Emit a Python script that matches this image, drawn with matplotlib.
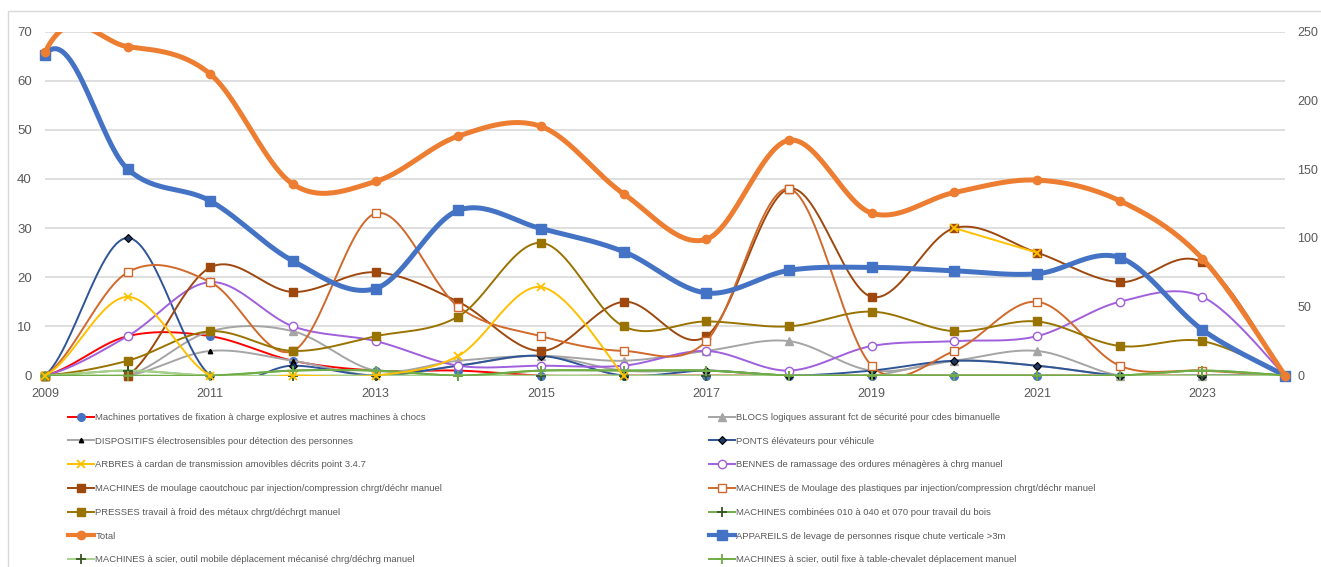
import numpy as np
import matplotlib
matplotlib.use("Agg")
import matplotlib.pyplot as plt
from matplotlib.lines import Line2D
from matplotlib.patches import Rectangle
from matplotlib import font_manager

# ---------------- data ----------------
# 2008 is the (zero) point before the visible axis start (2009)
YEARS = list(range(2008, 2025))
nan = np.nan

portatives = [0, 0, 8, 8, 3, 1, 1, 0, 0, 0, 0, 0, 0, 0, 0, 0, 0]
blocs = [0, 0, 0, 9, 9, 1, 3, 4, 3, 5, 7, 1, 3, 5, 0, 0, 0]
dispositifs = [0, 0, 0, 5, 3, 0, 2, 4, 1, 1, 0, 0, 3, 2, 0, 0, 0]
ponts = [0, 0, 28, 0, 2, 0, 2, 4, 0, 1, 0, 1, 3, 2, 0, 0, 0]
arbres = [0, 0, 16, 0, 0, 0, 4, 18, 0, nan, nan, nan, 30, 25, nan, nan, nan]
bennes = [0, 0, 8, 19, 10, 7, 2, 2, 2, 5, 1, 6, 7, 8, 15, 16, 0]
caoutchouc = [0, 0, 0, 22, 17, 21, 15, 5, 15, 8, 38, 16, 30, 25, 19, 23, 0]
plastiques = [0, 0, 21, 19, 5, 33, 14, 8, 5, 7, 38, 2, 5, 15, 2, 1, 0]
presses = [0, 0, 3, 9, 5, 8, 12, 27, 10, 11, 10, 13, 9, 11, 6, 7, 0]
combinees = [0, 0, 1, 0, 1, 1, 0, 1, 1, 1, 0, 0, 0, 0, 0, 1, 0]
total = [0, 235, 239, 219, 139, 141, 174, 181, 132, 99, 171, 118, 133, 142, 127, 85, 0]
appareils = [0, 65.3, 42, 35.5, 23.3, 17.7, 33.6, 29.9, 25.2, 16.8, 21.4, 22, 21.3, 20.7, 24, 9.3, 0]
scier_mobile = [0, 0, 1, 0, 0, 0, 0, 0, 0, 0, 0, 0, 0, 0, 0, 0, 0]
scier_fixe = [0, 0, 0, 0, 1, 1, 0, 1, 1, 1, 0, 0, 0, 0, 0, 1, 0]

LABELS = [
    "Machines portatives de fixation à charge explosive et autres machines à chocs",
    "BLOCS logiques assurant fct de sécurité pour cdes bimanuelle",
    "DISPOSITIFS électrosensibles pour détection des personnes",
    "PONTS élévateurs pour véhicule",
    "ARBRES à cardan de transmission amovibles décrits point 3.4.7",
    "BENNES de ramassage des ordures ménagères à chrg manuel",
    "MACHINES de moulage caoutchouc par injection/compression chrgt/déchr manuel",
    "MACHINES de Moulage des plastiques par injection/compression chrgt/déchr manuel",
    "PRESSES travail à froid des métaux chrgt/déchrgt manuel",
    "MACHINES combinées 010 à 040 et 070 pour travail du bois",
    "Total",
    "APPAREILS de levage de personnes risque chute verticale >3m",
    "MACHINES à scier, outil mobile déplacement mécanisé chrg/déchrg manuel",
    "MACHINES à scier, outil fixe à table-chevalet déplacement manuel",
]
SERIES = [portatives, blocs, dispositifs, ponts, arbres, bennes, caoutchouc,
          plastiques, presses, combinees, total, appareils, scier_mobile, scier_fixe]
Y_TICKS_LEFT = [0, 10, 20, 30, 40, 50, 60, 70]
Y_TICKS_RIGHT = [0, 50, 100, 150, 200, 250]
X_TICKS = [2009, 2011, 2013, 2015, 2017, 2019, 2021, 2023]

# ---------------- styles ----------------
STYLES = [
    dict(color="#FF0000", marker="o", mfc="#4472C4", mec="#4472C4", ms=5.5, lw=1.4),
    dict(color="#A5A5A5", marker="^", mfc="#A5A5A5", mec="#A5A5A5", ms=5.5, lw=1.4),
    dict(color="#A5A5A5", marker="^", mfc="#000000", mec="#000000", ms=3.2, lw=1.4),
    dict(color="#2F5597", marker="D", mfc="#203864", mec="#000000", ms=4.5, lw=1.4, mew=0.8),
    dict(color="#FFC000", marker="x", mfc="#FFC000", mec="#FFC000", ms=6, lw=1.4, mew=1.3),
    dict(color="#A05FDC", marker="o", mfc="white", mec="#A05FDC", ms=6, lw=1.4, mew=1.0),
    dict(color="#9E480E", marker="s", mfc="#9E480E", mec="#9E480E", ms=6, lw=1.4),
    dict(color="#D0692B", marker="s", mfc="white", mec="#D0692B", ms=6, lw=1.4, mew=1.0),
    dict(color="#997300", marker="s", mfc="#997300", mec="#997300", ms=6, lw=1.4),
    dict(color="#70AD47", marker="+", mfc="#375623", mec="#375623", ms=6.5, lw=1.4, mew=1.3),
    dict(color="#ED7D31", marker="o", mfc="#ED7D31", mec="#ED7D31", ms=6, lw=3.6),
    dict(color="#4472C4", marker="s", mfc="#4472C4", mec="#4472C4", ms=6.5, lw=3.6),
    dict(color="#A9D18E", marker="+", mfc="#375623", mec="#375623", ms=6.5, lw=1.4, mew=1.3),
    dict(color="#70AD47", marker="+", mfc="#70AD47", mec="#70AD47", ms=6.5, lw=1.4, mew=1.3),
]
SECONDARY = {10}
ZORDER = {4: 3.5}

W, H = 1321, 567
GRID = "#D9D9D9"
TXT = "#595959"

avail = {f.name for f in font_manager.fontManager.ttflist}
FONT = "Liberation Sans Narrow" if "Liberation Sans Narrow" in avail else "Liberation Sans"
plt.rcParams["font.family"] = [FONT, "DejaVu Sans"]


def smooth(x, y, n=30):
    """Excel-like smoothed line (Catmull-Rom Bezier) per contiguous run."""
    x = np.asarray(x, float)
    y = np.asarray(y, float)
    ok = ~np.isnan(y)
    xs, ys = [], []
    i = 0
    N = len(y)
    while i < N:
        if not ok[i]:
            i += 1
            continue
        j = i
        while j + 1 < N and ok[j + 1]:
            j += 1
        P = np.column_stack([x[i:j + 1], y[i:j + 1]])
        if len(P) >= 2:
            Pe = np.vstack([P[0], P, P[-1]])
            t = np.linspace(0, 1, n)[:, None]
            for k in range(len(P) - 1):
                p0, p1, p2, p3 = Pe[k], Pe[k + 1], Pe[k + 2], Pe[k + 3]
                b1 = p1 + (p2 - p0) / 6.0
                b2 = p2 - (p3 - p1) / 6.0
                seg = ((1 - t) ** 3) * p1 + 3 * t * (1 - t) ** 2 * b1 + 3 * t ** 2 * (1 - t) * b2 + t ** 3 * p2
                xs.append(seg[:, 0]); ys.append(seg[:, 1])
            xs.append([np.nan]); ys.append([np.nan])
        i = j + 1
    if not xs:
        return np.array([]), np.array([])
    return np.concatenate(xs), np.concatenate(ys)


fig = plt.figure(figsize=(W / 100, H / 100), dpi=100)
L, R, T, B = 45, 1285, 31.5, 375.5
ax = fig.add_axes([L / W, 1 - B / H, (R - L) / W, (B - T) / H])
ax2 = ax.twinx()

fig.patches.append(Rectangle((8 / W, -0.2), 1.5, 1 - 11 / H + 0.2, transform=fig.transFigure,
                             fill=False, edgecolor="#D9D9D9", lw=1.0))

ax.set_xlim(2009, 2024)
ax.set_ylim(0, 70)
ax2.set_ylim(0, 250)
ax.set_yticks(Y_TICKS_LEFT)
ax2.set_yticks(Y_TICKS_RIGHT)
ax.set_xticks(X_TICKS)
ax.set_xticklabels([str(v) for v in X_TICKS])
for a in (ax, ax2):
    for s in a.spines.values():
        s.set_visible(False)
    a.tick_params(length=0, labelsize=9.5, colors=TXT)
ax.tick_params(axis="x", pad=9, labelsize=9)
ax.tick_params(axis="y", pad=9.5)
ax2.tick_params(axis="y", pad=9, labelsize=9)
ax.yaxis.grid(True, color=GRID, lw=1.2)
ax.set_axisbelow(True)
ax2.patch.set_visible(False)

handles = []
years = np.array(YEARS, float)
vis = years >= 2009
for idx, (vals, lab, st) in enumerate(zip(SERIES, LABELS, STYLES)):
    target = ax2 if idx in SECONDARY else ax
    z = ZORDER.get(idx, 2 + idx * 0.01)
    sx, sy = smooth(years, vals)
    target.plot(sx, sy, color=st["color"], lw=st["lw"], solid_capstyle="round", zorder=z)
    v = np.array(vals, float)
    target.plot(years[vis], v[vis], ls="none", marker=st["marker"], ms=st["ms"],
                mfc=st["mfc"], mec=st["mec"], mew=st.get("mew", 1.0), zorder=z + 0.005,
                clip_on=False)
    handles.append(Line2D([], [], color=st["color"], lw=min(st["lw"], 3.0), marker=st["marker"],
                          ms=st["ms"], mfc=st["mfc"], mec=st["mec"], mew=st.get("mew", 1.0)))

FS = 6.8
common = dict(frameon=False, fontsize=FS, handlelength=2.7, handletextpad=0.2,
              labelspacing=1.56, borderpad=0, borderaxespad=0, loc="upper left",
              labelcolor=TXT)
left_idx = list(range(0, 14, 2))
right_idx = list(range(1, 14, 2))
leg1 = fig.legend([handles[i] for i in left_idx], [LABELS[i] for i in left_idx],
                  bbox_to_anchor=(68 / W, 1 - 413 / H), **common)
leg2 = fig.legend([handles[i] for i in right_idx], [LABELS[i] for i in right_idx],
                  bbox_to_anchor=(709 / W, 1 - 413 / H), **common)

fig.savefig("out.png", dpi=100)
